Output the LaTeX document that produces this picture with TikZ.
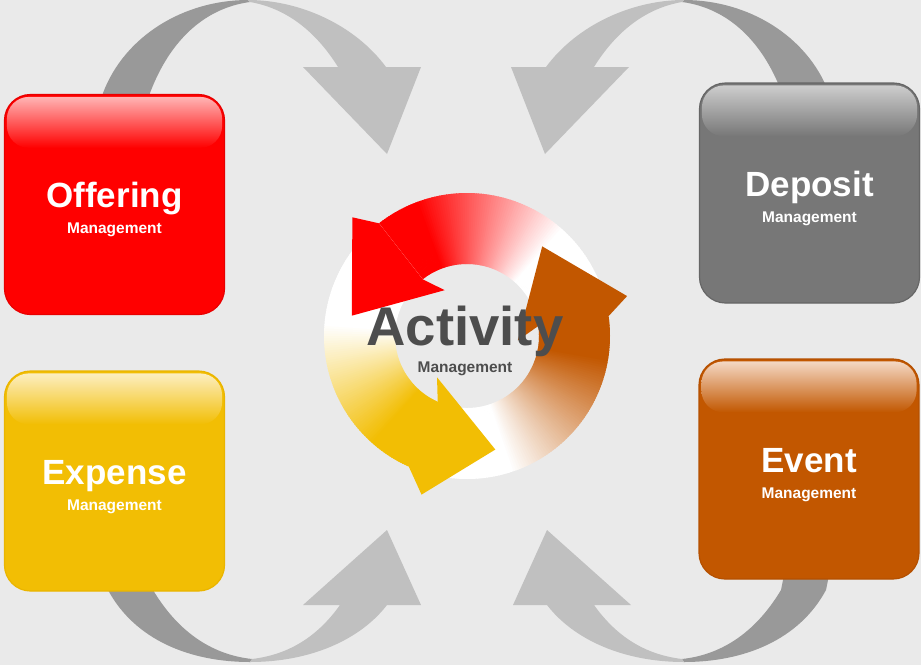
\documentclass[tikz,border=0pt]{standalone}
\usepackage{fontspec}
\setmainfont{Liberation Sans}
\usepackage{xcolor}
\usetikzlibrary{calc}

\definecolor{bgGray}{HTML}{EAEAEA}
\definecolor{arrowDark}{HTML}{999999}
\definecolor{arrowLight}{HTML}{C0C0C0}
\definecolor{offerRed}{HTML}{FF0000}
\definecolor{offerEdge}{HTML}{E80000}
\definecolor{offerGloss}{HTML}{FFB4B4}
\definecolor{depositGray}{HTML}{777777}
\definecolor{depositEdge}{HTML}{666666}
\definecolor{depositGloss}{HTML}{CDCDCD}
\definecolor{expenseGold}{HTML}{F2BE04}
\definecolor{expenseEdge}{HTML}{EAB500}
\definecolor{expenseGloss}{HTML}{FCEEC0}
\definecolor{eventOrange}{HTML}{C25700}
\definecolor{eventEdge}{HTML}{B55000}
\definecolor{eventGloss}{HTML}{F4D8C4}
\definecolor{textGray}{HTML}{4D4D4D}

\newcommand{\mgmtline}{\fontsize{15.5}{18}\selectfont Management}
\newcommand{\headstrut}{\rule{0pt}{36pt}}

\begin{document}
\begin{tikzpicture}[x=1pt, y=-1pt,
  mgmt/.style={draw, line width=1.2pt, rounded corners=26pt, minimum width=220pt,
    minimum height=220pt, inner sep=0pt, align=center, text=white,
    font=\bfseries\fontsize{35}{26}\selectfont},
  gloss/.style={rounded corners=22pt}]
  \path[use as bounding box, fill=bgGray] (0,0) rectangle (921,665);

  % grey arrows, top pair
  \foreach \sx/\xo in {1/0, -1/932} {
    \begin{scope}[xshift=\xo, xscale=\sx]
      \fill[arrowDark] (100,110) -- (103,93) .. controls (125,35) and (185,0) .. (248,0)
        -- (250,2) .. controls (205,8) and (170,40) .. (150,93) -- (148,110) -- cycle;
      \fill[arrowLight] (248,0) .. controls (300,0) and (355,25) .. (386,67) -- (421,67)
        -- (387,154) -- (303,67) -- (338,67) .. controls (315,30) and (285,8) .. (250,2) -- cycle;
    \end{scope}
  }
  % grey arrows, bottom pair
  \foreach \sx/\xo in {1/0, -1/934} {
    \begin{scope}[xshift=\xo, xscale=\sx]
      \fill[arrowDark] (105,575) -- (108,590) .. controls (135,640) and (190,662) .. (250,662)
        -- (252,659) .. controls (215,655) and (180,635) .. (153,590) -- (150,575) -- cycle;
      \fill[arrowLight] (250,662) .. controls (310,662) and (360,640) .. (387,605) -- (421,605)
        -- (387,530) -- (303,605) -- (340,605) .. controls (315,640) and (285,655) .. (252,659) -- cycle;
    \end{scope}
  }

  % boxes
  \node[mgmt, fill=offerRed, draw=offerEdge] (offering) at (114.5,204.5) {\headstrut Offering\\\mgmtline};
  \node[mgmt, fill=expenseGold, draw=expenseEdge] (expense) at (114.5,481) {\headstrut Expense\\\mgmtline};
  \node[mgmt, fill=depositGray, draw=depositEdge] (deposit) at (809.5,193) {\headstrut Deposit\\\mgmtline};
  \node[mgmt, fill=eventOrange, draw=eventEdge] (event) at (809,469) {\headstrut Event\\\mgmtline};

  \foreach \bx/\col/\glo in {offering/offerRed/offerGloss, expense/expenseGold/expenseGloss,
      deposit/depositGray/depositGloss, event/eventOrange/eventGloss}
    \shade[gloss, top color=\glo, bottom color=\col]
      ([shift={(3,3)}]\bx.north west) rectangle ([shift={(-3,54)}]\bx.north east);

  % activity ring
  \begin{scope}[shift={(467,336)}, yscale=-1]
    \foreach \col/\from/\to/\full/\zero in {offerRed/8/128/110/48, eventOrange/-114/8/-10/-72,
        expenseGold/128/246/228/175} {
      \pgfmathtruncatemacro\last{\to-1}
      \foreach \a in {\from,...,\last} {
        \pgfmathsetmacro\p{max(0,min(100,(\a-\zero)*100/(\full-\zero)))}
        \fill[\col!\p!white] (\a:72) -- (\a:143) -- (\a+1.4:143) -- (\a+1.4:72) -- cycle;
      }
    }
    \foreach \col/\b/\bo/\tp/\bi in {offerRed/128/134/170/116, eventOrange/8/14/50/-5,
        expenseGold/246/254/284/234}
      \fill[\col] (\b:143) -- (\bo:165) -- (\tp:117) -- (\bi:51) -- (\b:72) -- cycle;
  \end{scope}

  \node[font=\bfseries\fontsize{54.5}{60}\selectfont, text=textGray, anchor=base] (activity) at (465,345) {Activity};
  \node[font=\bfseries\fontsize{15.5}{18}\selectfont, text=textGray, anchor=base] (activity-sub) at (465,372) {Management};
\end{tikzpicture}
\end{document}
